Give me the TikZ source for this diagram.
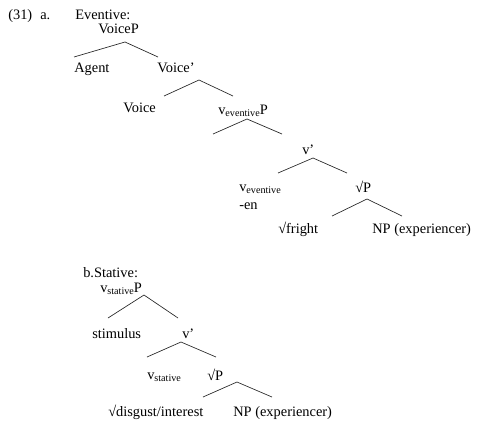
\documentclass[tikz,border=0pt]{standalone}
\usepackage{fontspec}
\setmainfont{Liberation Serif}
\newcommand{\lowtxt}[1]{\raisebox{-0.35ex}{\fontsize{7.6}{8}\selectfont #1}}
\begin{document}
\begin{tikzpicture}[x=0.75pt,y=-0.75pt,
  lbl/.style={anchor=base west,inner sep=0pt,font=\fontsize{10.8}{13}\selectfont},
  branch/.style={draw=black!85,line width=0.5pt}]
\useasboundingbox (0,0) rectangle (485,422);
% (31) a.
\node[lbl] (num) at (8,19) {(31)};
\node[lbl] (a) at (40,19) {a.};
\node[lbl] (ev) at (75,19) {Eventive:};
\node[lbl] (voicep) at (98,33) {VoiceP};
\node[lbl] (agent) at (74,72) {Agent};
\node[lbl] (voicebar) at (157,72) {Voice’};
\node[lbl] (voice) at (123,112) {Voice};
\node[lbl] (vevp) at (218,114) {v\lowtxt{eventive}P};
\node[lbl] (vbar1) at (302,154) {v’};
\node[lbl] (vev) at (239,191) {v\lowtxt{eventive}};
\node[lbl] (en) at (239,209) {-en};
\node[lbl] (rootp1) at (355,192) {√P};
\node[lbl] (fright) at (278,233) {√fright};
\node[lbl] (np1) at (372,233) {NP (experiencer)};
% tree a
\coordinate (a1) at (125,42); \coordinate (a1l) at (74,57); \coordinate (a1r) at (158,57);
\coordinate (a2) at (199,80); \coordinate (a2l) at (164,96); \coordinate (a2r) at (233,96);
\coordinate (a3) at (247,119); \coordinate (a3l) at (213,134); \coordinate (a3r) at (282,134);
\coordinate (a4) at (313,158); \coordinate (a4l) at (278,173); \coordinate (a4r) at (347,173);
\coordinate (a5) at (367,199); \coordinate (a5l) at (332,216); \coordinate (a5r) at (402,216);
\foreach \p in {a1,a2,a3,a4,a5}{\draw[branch] (\p l) -- (\p) -- (\p r);}
% b.
\node[lbl] (bst) at (83,277) {b.Stative:};
\node[lbl] (vstp) at (100,292) {v\lowtxt{stative}P};
\node[lbl] (stim) at (92,338) {stimulus};
\node[lbl] (vbar2) at (182,338) {v’};
\node[lbl] (vst) at (147,379) {v\lowtxt{stative}};
\node[lbl] (rootp2) at (207,380) {√P};
\node[lbl] (disg) at (108,416) {√disgust/interest};
\node[lbl] (np2) at (233,416) {NP (experiencer)};
\coordinate (b1) at (144,295); \coordinate (b1l) at (108,318); \coordinate (b1r) at (178,318);
\coordinate (b2) at (181,342); \coordinate (b2l) at (147,357); \coordinate (b2r) at (216,357);
\coordinate (b3) at (237,382); \coordinate (b3l) at (203,397); \coordinate (b3r) at (272,397);
\foreach \p in {b1,b2,b3}{\draw[branch] (\p l) -- (\p) -- (\p r);}
\end{tikzpicture}
\end{document}
